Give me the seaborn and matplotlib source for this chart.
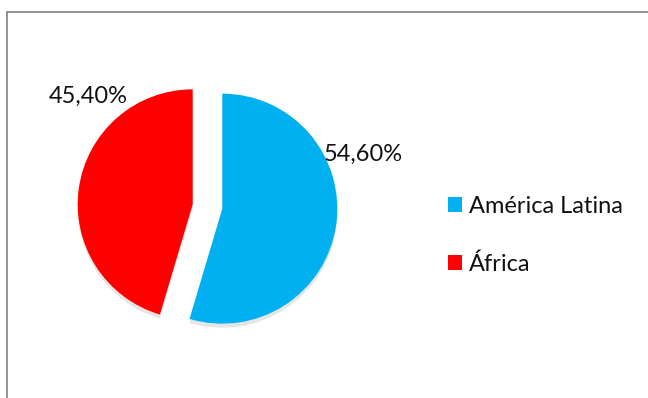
import matplotlib
matplotlib.use("Agg")
import matplotlib.pyplot as plt
from matplotlib.lines import Line2D
import numpy as np
import seaborn as sns

# Share of the total by region
regions = ["América Latina", "África"]
shares = [54.6, 45.4]
colors = ["#00B0F0", "#FF0000"]
# angles (degrees) at which each percentage label sits around its slice
label_angles = [21, 134]

sns.set_theme(style="white")
plt.rcParams["font.family"] = ["Lato", "DejaVu Sans"]

W, H = 648, 398
fig = plt.figure(figsize=(W / 100, H / 100), dpi=100)

# square axes around the pie
half = 180
cx, cy = 207.5, 206.5  # pie centre in pixels (from top)
ax = fig.add_axes([(cx - half) / W, (H - cy - half) / H, 2 * half / W, 2 * half / H])

wedges, _ = ax.pie(
    shares,
    colors=colors,
    startangle=90,
    counterclock=False,
    explode=[0.13, 0.13],
    radius=1,
    wedgeprops=dict(linewidth=0),
    shadow=dict(ox=0.0, oy=-0.025, facecolor="#9a9a9a", alpha=0.25, edgecolor="none"),
)

lim = half / 115
ax.set_xlim(-lim, lim)
ax.set_ylim(-lim, lim)
ax.set_aspect("equal")
ax.axis("off")

for w, v, a in zip(wedges, shares, label_angles):
    x0, y0 = w.center
    d = 1.31 * w.r
    t = np.deg2rad(a)
    ax.text(x0 + d * np.cos(t), y0 + d * np.sin(t),
            f"{v:.2f}%".replace(".", ","), ha="center", va="center",
            fontsize=17, color="#111111")

handles = [plt.Rectangle((0, 0), 1, 1, facecolor=c, edgecolor="none") for c in colors]
fig.legend(handles, regions, loc="upper left",
           bbox_to_anchor=(436 / W, 1 - 184 / H), frameon=False,
           fontsize=17, handlelength=0.6, handleheight=0.6,
           handletextpad=0.3, labelspacing=1.55, borderpad=0,
           labelcolor="#111111")

# chart frame (top and left edges)
fig.add_artist(Line2D([6.5 / W, 1], [1 - 11.5 / H, 1 - 11.5 / H],
                      transform=fig.transFigure, color="#8a8a8a", lw=1.3))
fig.add_artist(Line2D([6.5 / W, 6.5 / W], [0, 1 - 11.5 / H],
                      transform=fig.transFigure, color="#8a8a8a", lw=1.3))

fig.savefig("out.png", dpi=100)
